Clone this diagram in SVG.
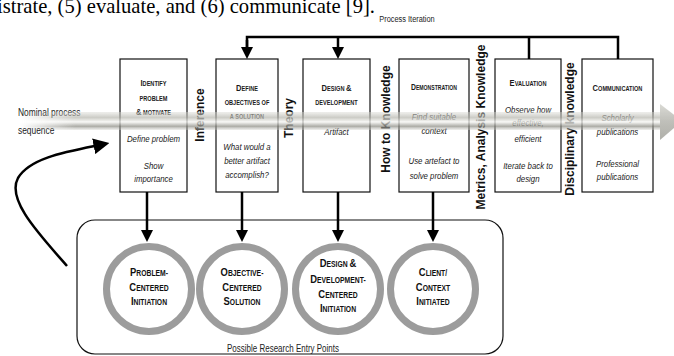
<svg xmlns="http://www.w3.org/2000/svg" width="674" height="356" viewBox="0 0 674 356">
<defs>
<style>
.box{fill:#fff;stroke:#111;stroke-width:1.2}
.hd{font-family:"Liberation Sans",Arial,sans-serif;font-weight:bold;font-size:7px;fill:#1a1a1a;text-anchor:middle}
.hd .b{font-size:9.5px}
.it{font-family:"Liberation Sans",Arial,sans-serif;font-style:italic;font-size:9.8px;fill:#222;text-anchor:middle}
.vl{font-family:"Liberation Sans",Arial,sans-serif;font-weight:bold;font-size:12px;fill:#111;text-anchor:middle}
.ct{font-family:"Liberation Sans",Arial,sans-serif;font-weight:bold;font-size:8.3px;fill:#111;text-anchor:middle}
.ct .b{font-size:11.5px}
.lb{font-family:"Liberation Sans",Arial,sans-serif;font-size:10px;fill:#222}
.ring{fill:#fff;stroke:#9c9c9c;stroke-width:7}
.ln{fill:none;stroke:#000;stroke-width:2.5}
</style>
<marker id="ah" viewBox="0 0 10 10" refX="5" refY="5" markerWidth="12" markerHeight="12" markerUnits="userSpaceOnUse" orient="auto">
<path d="M0,0 L10,5 L0,10 z" fill="#000"/>
</marker>
<marker id="ah2" viewBox="0 0 10 10" refX="4" refY="5" markerWidth="16" markerHeight="16" markerUnits="userSpaceOnUse" orient="auto">
<path d="M0,0 L10,5 L0,10 z" fill="#000"/>
</marker>
<linearGradient id="bandG" gradientUnits="userSpaceOnUse" x1="0" y1="112" x2="0" y2="130">
<stop offset="0" stop-color="#d8d8d2" stop-opacity="0.5"/>
<stop offset="0.3" stop-color="#b8b8b0" stop-opacity="0.85"/>
<stop offset="0.55" stop-color="#f6f6f3" stop-opacity="0.9"/>
<stop offset="0.8" stop-color="#8e8e86" stop-opacity="0.85"/>
<stop offset="1" stop-color="#cfcfc8" stop-opacity="0.4"/>
</linearGradient>
<linearGradient id="headG" gradientUnits="userSpaceOnUse" x1="0" y1="104" x2="0" y2="140">
<stop offset="0" stop-color="#d4d4ce"/>
<stop offset="0.5" stop-color="#b4b4ad"/>
<stop offset="1" stop-color="#a2a29b"/>
</linearGradient>
<linearGradient id="fadeG" gradientUnits="userSpaceOnUse" x1="20" y1="0" x2="75" y2="0">
<stop offset="0" stop-color="#fff" stop-opacity="0"/>
<stop offset="1" stop-color="#fff" stop-opacity="1"/>
</linearGradient>
<mask id="fadeM" maskUnits="userSpaceOnUse" x="0" y="0" width="674" height="356">
<rect x="0" y="0" width="674" height="356" fill="url(#fadeG)"/>
</mask>
</defs>

<text x="-3" y="13" style="font-family:'Liberation Serif','Times New Roman',serif;font-size:20.6px;fill:#000">istrate, (5) evaluate, and (6) communicate [9].</text>

<g id="label-process-iteration" transform="translate(407,0) scale(0.78,1)">
<text class="lb" x="0" y="22" style="text-anchor:middle;font-size:9.5px">Process Iteration</text>
</g>

<g id="label-nominal" transform="translate(18,0) scale(0.8,1)">
<text class="lb" x="0" y="116" style="font-size:10.5px">Nominal process</text>
<text class="lb" x="0" y="134" style="font-size:10.5px">sequence</text>
</g>

<g id="entry-container">
<rect x="77" y="220" width="426" height="134" rx="18" ry="18" fill="none" stroke="#111" stroke-width="1.2"/>
<g transform="translate(283,0) scale(0.8,1)">
<text class="lb" x="0" y="352" style="text-anchor:middle">Possible Research Entry Points</text>
</g>
</g>

<g id="box-identify">
<rect class="box" x="120" y="59" width="67" height="133"/>
<g transform="translate(153.5,0) scale(0.8,1)">
<text class="hd" x="0" y="86"><tspan class="b">I</tspan>DENTIFY</text>
<text class="hd" x="0" y="101">PROBLEM</text>
<text class="hd" x="0" y="115"><tspan class="b">&amp;</tspan> MOTIVATE</text>
<text class="it" x="0" y="142">Define problem</text>
<text class="it" x="0" y="169">Show</text>
<text class="it" x="0" y="182">importance</text>
</g>
</g>

<g id="box-define">
<rect class="box" x="216" y="59" width="62" height="133"/>
<g transform="translate(247,0) scale(0.8,1)">
<text class="hd" x="0" y="91"><tspan class="b">D</tspan>EFINE</text>
<text class="hd" x="0" y="105">OBJECTIVES OF</text>
<text class="hd" x="0" y="119">A SOLUTION</text>
<text class="it" x="0" y="150">What would a</text>
<text class="it" x="0" y="164">better artifact</text>
<text class="it" x="0" y="178">accomplish?</text>
</g>
</g>

<g id="box-design">
<rect class="box" x="303" y="59" width="67" height="133"/>
<g transform="translate(336.5,0) scale(0.8,1)">
<text class="hd" x="0" y="91"><tspan class="b">D</tspan>ESIGN <tspan class="b">&amp;</tspan></text>
<text class="hd" x="0" y="105">DEVELOPMENT</text>
<text class="it" x="0" y="135">Artifact</text>
</g>
</g>

<g id="box-demonstration">
<rect class="box" x="399" y="59" width="70" height="133"/>
<g transform="translate(434,0) scale(0.8,1)">
<text class="hd" x="0" y="90" style="font-size:6.4px"><tspan class="b" style="font-size:8.6px">D</tspan>EMONSTRATION</text>
<text class="it" x="0" y="120">Find suitable</text>
<text class="it" x="0" y="134">context</text>
<text class="it" x="0" y="164">Use artefact to</text>
<text class="it" x="0" y="179">solve problem</text>
</g>
</g>

<g id="box-evaluation">
<rect class="box" x="495" y="59" width="66" height="133"/>
<g transform="translate(528,0) scale(0.8,1)">
<text class="hd" x="0" y="86"><tspan class="b">E</tspan>VALUATION</text>
<text class="it" x="0" y="113">Observe how</text>
<text class="it" x="0" y="126">effective,</text>
<text class="it" x="0" y="142">efficient</text>
<text class="it" x="0" y="169">Iterate back to</text>
<text class="it" x="0" y="182">design</text>
</g>
</g>

<g id="box-communication">
<rect class="box" x="582" y="59" width="71" height="133"/>
<g transform="translate(617.5,0) scale(0.8,1)">
<text class="hd" x="0" y="91"><tspan class="b">C</tspan>OMMUNICATION</text>
<text class="it" x="0" y="121">Scholarly</text>
<text class="it" x="0" y="135">publications</text>
<text class="it" x="0" y="167">Professional</text>
<text class="it" x="0" y="180">publications</text>
</g>
</g>

<g id="vertical-labels">
<text class="vl" transform="translate(203.5,115) rotate(-90)">Inference</text>
<text class="vl" transform="translate(293,118) rotate(-90)">Theory</text>
<text class="vl" transform="translate(390,119) rotate(-90)">How to Knowledge</text>
<text class="vl" transform="translate(485,127) rotate(-90)">Metrics, Analysis Knowledge</text>
<text class="vl" transform="translate(574,129) rotate(-90)">Disciplinary knowledge</text>
</g>

<g id="circle-problem">
<circle class="ring" cx="149" cy="289" r="42.5"/>
<g transform="translate(149,0) scale(0.82,1)">
<text class="ct" x="0" y="276"><tspan class="b">P</tspan>ROBLEM-</text>
<text class="ct" x="0" y="291"><tspan class="b">C</tspan>ENTERED</text>
<text class="ct" x="0" y="305"><tspan class="b">I</tspan>NITIATION</text>
</g>
</g>

<g id="circle-objective">
<circle class="ring" cx="242" cy="289" r="42.5"/>
<g transform="translate(242,0) scale(0.82,1)">
<text class="ct" x="0" y="276"><tspan class="b">O</tspan>BJECTIVE-</text>
<text class="ct" x="0" y="291"><tspan class="b">C</tspan>ENTERED</text>
<text class="ct" x="0" y="305"><tspan class="b">S</tspan>OLUTION</text>
</g>
</g>

<g id="circle-design">
<circle class="ring" cx="338" cy="289" r="42.5"/>
<g transform="translate(338,0) scale(0.82,1)">
<text class="ct" x="0" y="267"><tspan class="b">D</tspan>ESIGN <tspan class="b">&amp;</tspan></text>
<text class="ct" x="0" y="283"><tspan class="b">D</tspan>EVELOPMENT-</text>
<text class="ct" x="0" y="298"><tspan class="b">C</tspan>ENTERED</text>
<text class="ct" x="0" y="312"><tspan class="b">I</tspan>NITIATION</text>
</g>
</g>

<g id="circle-client">
<circle class="ring" cx="433" cy="289" r="42.5"/>
<g transform="translate(433,0) scale(0.82,1)">
<text class="ct" x="0" y="276"><tspan class="b">C</tspan>LIENT/</text>
<text class="ct" x="0" y="291"><tspan class="b">C</tspan>ONTEXT</text>
<text class="ct" x="0" y="305"><tspan class="b">I</tspan>NITIATED</text>
</g>
</g>

<g id="connectors">
<polyline class="ln" points="247,53 247,37 618,37 618,59"/>
<line class="ln" x1="247" y1="40" x2="247" y2="53" marker-end="url(#ah)"/>
<line class="ln" x1="338" y1="37" x2="338" y2="53" marker-end="url(#ah)"/>
<line class="ln" x1="529" y1="37" x2="529" y2="59"/>
<line class="ln" x1="147" y1="192" x2="147" y2="236" marker-end="url(#ah)"/>
<line class="ln" x1="242" y1="192" x2="242" y2="236" marker-end="url(#ah)"/>
<line class="ln" x1="338" y1="192" x2="338" y2="236" marker-end="url(#ah)"/>
<line class="ln" x1="433" y1="192" x2="433" y2="236" marker-end="url(#ah)"/>
<path class="ln" d="M67,266 C40,235 6,200 18,178 C30,158 65,152 100,145" stroke-width="3" marker-end="url(#ah2)"/>
</g>

<g id="process-band" opacity="0.85">
<rect x="20" y="112" width="642" height="18" fill="url(#bandG)" mask="url(#fadeM)"/>
<path d="M660,104 L682,121 L660,140 z" fill="url(#headG)"/>
</g>
</svg>
